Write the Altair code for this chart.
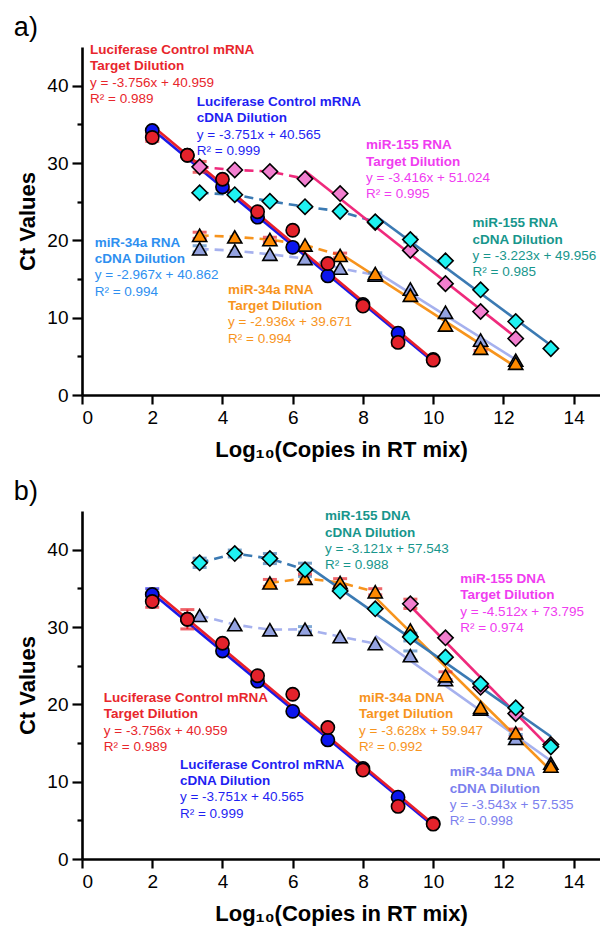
import altair as alt
import pandas as pd

FONT = "Liberation Sans"

# ---------------- data ----------------
luc_x = [2, 3, 4, 5, 6, 7, 8, 9, 10]
luc_target_ct = [33.3, 31.0, 27.9, 23.7, 21.3, 17.0, 11.5, 6.8, 4.5]
luc_cdna_ct = [34.2, 31.0, 26.9, 23.0, 19.1, 15.4, 11.7, 8.0, 4.6]

mir_x = [3.35, 4.35, 5.35, 6.35, 7.35, 8.35, 9.35, 10.35, 11.35, 12.35, 13.35]

# panel a (RNA)
a_mir155_target_ct = [29.5, 29.1, 28.9, 27.95, 26.05, 22.3, 18.7, 14.4, 10.8, 7.3]
a_mir155_cdna_ct = [26.15, 25.9, 25.05, 24.35, 23.75, 22.4, 20.1, 17.35, 13.6, 9.5, 6.0]
a_mir34_target_ct = [20.65, 20.45, 20.1, 19.4, 18.05, 15.7, 12.9, 9.05, 6.05, 4.1]
a_mir34_cdna_ct = [18.9, 18.65, 18.2, 17.65, 16.4, 15.5, 13.7, 10.7, 7.1, 4.5]

# panel b (DNA)
b_mir155_cdna_ct = [38.3, 39.5, 38.85, 37.4, 34.65, 32.35, 28.7, 26.1, 22.65, 19.55, 14.5]
b_mir155_target_ct = [33.0, 28.6, 22.2, 18.8, 14.8]          # from x = 9.35
b_mir34_target_ct = [35.7, 36.3, 35.75, 34.55, 29.6, 23.7, 19.6, 16.3, 12.0]  # from x = 5.35
b_mir34_cdna_ct = [31.5, 30.3, 29.65, 29.7, 28.75, 27.85, 26.3, 23.2, 19.4, 15.6, 12.4]

# first x of the linear (solid, fitted) part of each series
linear_from = {
    "a_mir34_cdna": 8.35, "a_mir34_target": 7.35, "a_mir155_target": 6.35,
    "a_mir155_cdna": 8.35, "a_luc_cdna": 2, "a_luc_target": 2,
    "b_mir34_cdna": 8.35, "b_mir34_target": 8.35, "b_mir155_target": 9.35,
    "b_mir155_cdna": 6.35, "b_luc_cdna": 2, "b_luc_target": 2,
}

# error bars (panel, series, x, +/- error)
errors = [
    ("a", "a_luc_target", 2, 0.5), ("a", "a_mir155_target", 3.35, 0.7),
    ("a", "a_mir34_target", 3.35, 0.4), ("a", "a_mir34_target", 5.35, 0.3),
    ("a", "a_mir34_target", 7.35, 0.3), ("a", "a_mir34_target", 11.35, 0.3),
    ("a", "a_mir34_cdna", 3.35, 0.4), ("a", "a_mir34_cdna", 8.35, 0.3),
    ("a", "a_mir155_cdna", 9.35, 0.3), ("a", "a_luc_target", 9, 0.4),
    ("b", "b_luc_cdna", 2, 0.75), ("b", "b_luc_target", 2, 0.75),
    ("b", "b_luc_target", 3, 1.25), ("b", "b_mir155_cdna", 3.35, 0.6),
    ("b", "b_mir155_cdna", 4.35, 0.45), ("b", "b_mir155_cdna", 5.35, 0.65),
    ("b", "b_mir155_cdna", 6.35, 0.85), ("b", "b_mir155_cdna", 9.35, 0.5),
    ("b", "b_mir34_target", 5.35, 0.45), ("b", "b_mir34_target", 6.35, 0.55),
    ("b", "b_mir34_target", 7.35, 0.5), ("b", "b_mir34_target", 8.35, 0.4),
    ("b", "b_mir34_target", 10.35, 0.5), ("b", "b_mir34_target", 12.35, 0.5),
    ("b", "b_mir155_target", 9.35, 0.6), ("b", "b_mir34_cdna", 6.35, 0.35),
    ("b", "b_mir34_cdna", 9.35, 0.6), ("b", "b_mir34_cdna", 12.35, 0.5),
]

# annotation texts: panel, x, y(first line), color, header1, header2, equation, r2
notes = [
    ("a", 0.23, 44.6, "#e8262c", "Luciferase Control mRNA", "Target Dilution", "y = -3.756x + 40.959", "R² = 0.989"),
    ("a", 3.27, 37.9, "#1f1ff2", "Luciferase Control mRNA", "cDNA Dilution", "y = -3.751x + 40.565", "R² = 0.999"),
    ("a", 8.09, 32.3, "#f03cf0", "miR-155 RNA", "Target Dilution", "y = -3.416x + 51.024", "R² = 0.995"),
    ("a", 11.12, 22.2, "#17968c", "miR-155 RNA", "cDNA Dilution", "y = -3.223x + 49.956", "R² = 0.985"),
    ("a", 0.36, 19.7, "#2e8ff0", "miR-34a RNA", "cDNA Dilution", "y = -2.967x + 40.862", "R² = 0.994"),
    ("a", 4.16, 13.6, "#f7941d", "miR-34a RNA", "Target Dilution", "y = -2.936x + 39.671", "R² = 0.994"),
    ("b", 6.92, 44.3, "#17968c", "miR-155 DNA", "cDNA Dilution", "y = -3.121x + 57.543", "R² = 0.988"),
    ("b", 10.77, 36.2, "#f03cf0", "miR-155 DNA", "Target Dilution", "y = -4.512x + 73.795", "R² = 0.974"),
    ("b", 0.62, 20.8, "#e8262c", "Luciferase Control mRNA", "Target Dilution", "y = -3.756x + 40.959", "R² = 0.989"),
    ("b", 2.79, 12.2, "#1f1ff2", "Luciferase Control mRNA", "cDNA Dilution", "y = -3.751x + 40.565", "R² = 0.999"),
    ("b", 7.89, 20.8, "#f7941d", "miR-34a DNA", "Target Dilution", "y = -3.628x + 59.947", "R² = 0.992"),
    ("b", 10.47, 11.2, "#7b80ee", "miR-34a DNA", "cDNA Dilution", "y = -3.543x + 57.535", "R² = 0.998"),
]

panel_labels = [("a", "a)"), ("b", "b)")]

# ---------------- styles ----------------
# series in drawing order: (key, x, ct, shape, fill, line colour, cap colour)
series = [
    ("a_mir34_cdna", mir_x, a_mir34_cdna_ct, "triangle-up", "#93a2e0", "#a6b1ee", "#4d86c4"),
    ("a_mir34_target", mir_x, a_mir34_target_ct, "triangle-up", "#ff8a00", "#f7941d", "#e8262c"),
    ("a_mir155_target", mir_x, a_mir155_target_ct, "diamond", "#f27fcf", "#ef2a7c", "#e8262c"),
    ("a_mir155_cdna", mir_x, a_mir155_cdna_ct, "diamond", "#1ff2f2", "#3b7ab3", "#3b7ab3"),
    ("a_luc_cdna", luc_x, luc_cdna_ct, "circle", "#0c16ee", "#1a1ae8", "#1a1ae8"),
    ("a_luc_target", luc_x, luc_target_ct, "circle", "#e3222b", "#e8202a", "#e8202a"),
    ("b_mir34_cdna", mir_x, b_mir34_cdna_ct, "triangle-up", "#93a2e0", "#a6b1ee", "#4d86c4"),
    ("b_mir34_target", mir_x[2:], b_mir34_target_ct, "triangle-up", "#ff8a00", "#f7941d", "#e8262c"),
    ("b_mir155_target", mir_x[6:], b_mir155_target_ct, "diamond", "#f27fcf", "#ef2a7c", "#e8262c"),
    ("b_mir155_cdna", mir_x, b_mir155_cdna_ct, "diamond", "#1ff2f2", "#3b7ab3", "#3b7ab3"),
    ("b_luc_cdna", luc_x, luc_cdna_ct, "circle", "#0c16ee", "#1a1ae8", "#1a1ae8"),
    ("b_luc_target", luc_x, luc_target_ct, "circle", "#e3222b", "#e8202a", "#e8202a"),
]
marker_size = {"circle": 175, "diamond": 235, "triangle-up": 200}

# ---------------- tables ----------------
pt_rows, dash_rows, solid_rows = [], [], []
lookup = {}
for order, (key, xs, ys, shape, fill, lc, cc) in enumerate(series):
    panel = key[0]
    lf = linear_from[key]
    for x, y in zip(xs, ys):
        lookup[(key, x)] = y
        pt_rows.append(dict(panel=panel, key=f"{order:02d}_{key}", x=x, y=y, shape=shape,
                            fill=fill, size=marker_size[shape]))
        if x <= lf and lf > min(xs):
            dash_rows.append(dict(panel=panel, key=f"{order:02d}_{key}", x=x, y=y, lc=lc))
        if x >= lf:
            solid_rows.append(dict(panel=panel, key=f"{order:02d}_{key}", x=x, y=y, lc=lc))
pts = pd.DataFrame(pt_rows)
dash = pd.DataFrame(dash_rows)
solid = pd.DataFrame(solid_rows)

cap_color = {s[0]: s[6] for s in series}
err_rows = []
for panel, key, x, e in errors:
    y = lookup[(key, x)]
    err_rows.append(dict(panel=panel, x=x, lo=y - e, hi=y + e, cc=cap_color[key]))
err = pd.DataFrame(err_rows)

LINE_PX = 16.3
Y_UNITS_PER_PX = 45 / 348.0
head_rows, eq_rows = [], []
for panel, x, y, col, h1, h2, eq, r2 in notes:
    dy = LINE_PX * Y_UNITS_PER_PX
    head_rows.append(dict(panel=panel, x=x, y=y, t=h1, c=col))
    head_rows.append(dict(panel=panel, x=x, y=y - dy, t=h2, c=col))
    eq_rows.append(dict(panel=panel, x=x, y=y - 2 * dy, t=eq, c=col))
    eq_rows.append(dict(panel=panel, x=x, y=y - 3 * dy, t=r2, c=col))
heads = pd.DataFrame(head_rows)
eqs = pd.DataFrame(eq_rows)
labs = pd.DataFrame([dict(panel=p, x=-1.94, y=47.4, t=t) for p, t in panel_labels])

# ---------------- chart ----------------
W, H = 518, 348
xscale = alt.Scale(domain=[0, 14.75], nice=False, zero=False)
yscale = alt.Scale(domain=[0, 45], nice=False, zero=False)

xaxis = alt.Axis(
    values=list(range(0, 15)),
    labelExpr="datum.value % 2 ? '' : datum.label",
    tickSize={"condition": {"test": "datum.value % 2", "value": 5}, "value": 9},
    title="Log₁₀(Copies in RT mix)", titlePadding=12, labelPadding=4,
    grid=False,
)
yaxis = alt.Axis(
    values=list(range(0, 45, 5)),
    labelExpr="datum.value % 10 ? '' : datum.label",
    tickSize={"condition": {"test": "datum.value % 10", "value": 5}, "value": 10},
    title="Ct Values", titlePadding=7, labelPadding=4,
    grid=False,
)


def panel_chart(p):
    X = alt.X("x:Q", scale=xscale, axis=xaxis)
    Y = alt.Y("y:Q", scale=yscale, axis=yaxis)
    Xn = alt.X("x:Q", scale=xscale)
    Yn = alt.Y("y:Q", scale=yscale)

    dashed = alt.Chart(dash[dash.panel == p]).mark_line(
        strokeWidth=2.6, strokeDash=[9, 6]
    ).encode(x=X, y=Y, detail="key:N", color=alt.Color("lc:N", scale=None))

    fits = alt.Chart(solid[solid.panel == p]).transform_regression(
        "x", "y", groupby=["key", "lc"]
    ).mark_line(strokeWidth=2.6).encode(
        x=Xn, y=Yn, detail="key:N", color=alt.Color("lc:N", scale=None)
    )

    e = err[err.panel == p]
    bars = alt.Chart(e).mark_rule(strokeWidth=2).encode(
        x=Xn, y=alt.Y("lo:Q", scale=yscale), y2="hi:Q", color=alt.Color("cc:N", scale=None)
    )
    cap_lo = alt.Chart(e).mark_tick(orient="horizontal", size=14, thickness=3).encode(
        x=Xn, y=alt.Y("lo:Q", scale=yscale), color=alt.Color("cc:N", scale=None)
    )
    cap_hi = alt.Chart(e).mark_tick(orient="horizontal", size=14, thickness=3).encode(
        x=Xn, y=alt.Y("hi:Q", scale=yscale), color=alt.Color("cc:N", scale=None)
    )

    points = alt.Chart(pts[pts.panel == p]).mark_point(
        filled=True, stroke="black", strokeWidth=1.6, opacity=1
    ).encode(
        x=Xn, y=Yn,
        shape=alt.Shape("shape:N", scale=None),
        fill=alt.Fill("fill:N", scale=None),
        size=alt.Size("size:Q", scale=None),
    )

    head_t = alt.Chart(heads[heads.panel == p]).mark_text(
        align="left", baseline="middle", font=FONT, fontSize=13.5, fontWeight="bold"
    ).encode(x=Xn, y=Yn, text="t:N", color=alt.Color("c:N", scale=None))
    eq_t = alt.Chart(eqs[eqs.panel == p]).mark_text(
        align="left", baseline="middle", font=FONT, fontSize=13.5
    ).encode(x=Xn, y=Yn, text="t:N", color=alt.Color("c:N", scale=None))
    lab_t = alt.Chart(labs[labs.panel == p]).mark_text(
        align="left", baseline="middle", font=FONT, fontSize=27, color="black"
    ).encode(x=Xn, y=Yn, text="t:N")

    return alt.layer(dashed, fits, bars, cap_lo, cap_hi, points, head_t, eq_t, lab_t).properties(
        width=W, height=H
    )


chart = alt.vconcat(panel_chart("a"), panel_chart("b"), spacing=18).properties(
    padding={"left": 5, "top": 6, "right": 0, "bottom": 5}
).configure_view(stroke=None).configure_axis(
    labelFont=FONT, titleFont=FONT, labelFontSize=19, titleFontSize=22,
    titleFontWeight="bold", labelColor="black", titleColor="black",
    domainColor="black", tickColor="black", domainWidth=2.6, tickWidth=2.2,
)

chart.save("out.html", embed_options={"renderer": "svg", "actions": False})
